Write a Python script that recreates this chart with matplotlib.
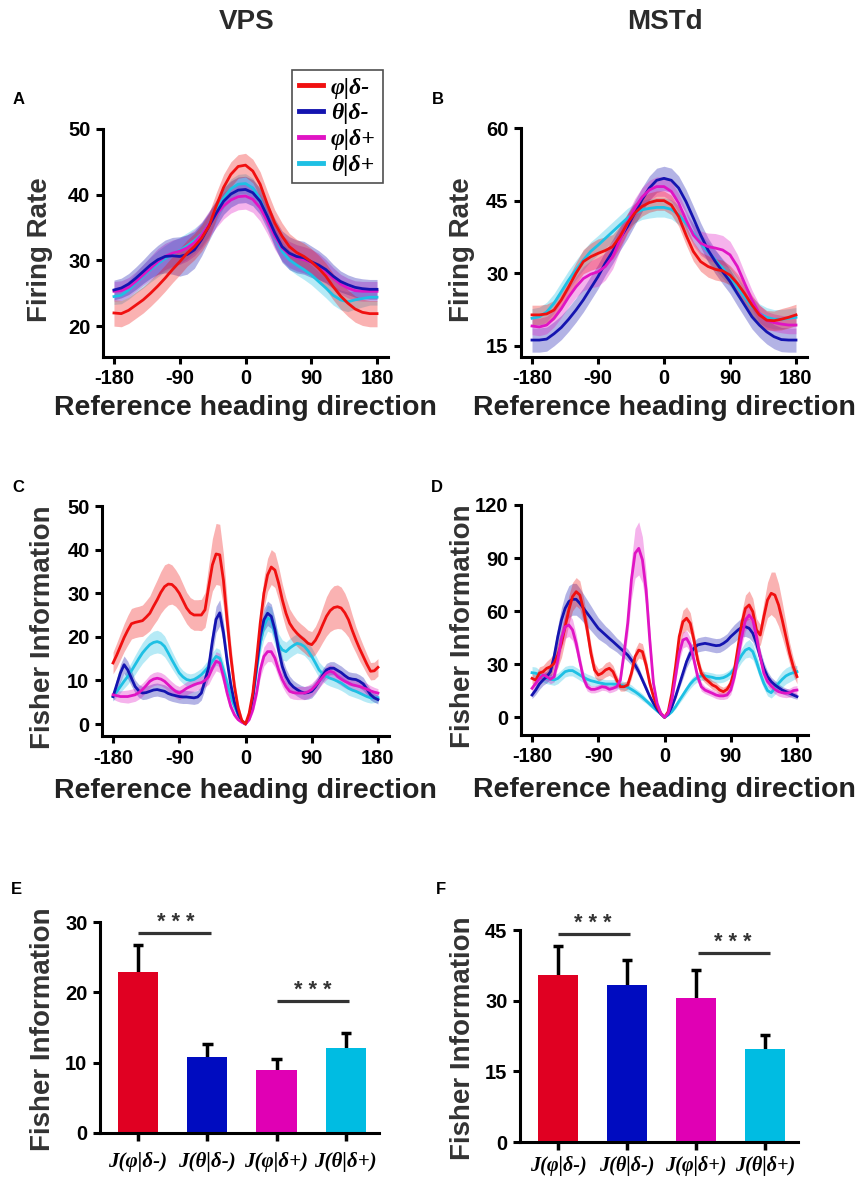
import numpy as np
import matplotlib
matplotlib.use("Agg")
import matplotlib.pyplot as plt
from matplotlib.lines import Line2D
from matplotlib.font_manager import FontProperties

plt.rcParams['font.family'] = ['Liberation Sans', 'DejaVu Sans']
plt.rcParams['font.weight'] = 'bold'

# ---------------- data ----------------
x10 = np.arange(-180, 181, 10)
x5 = np.arange(-180, 181, 5)
names = ['φ|δ-', 'θ|δ-', 'φ|δ+', 'θ|δ+']
colors = ['#f01010', '#1414b0', '#e014c4', '#1ec0e4']

# panel A (VPS firing rate)
a_red = [22.0, 21.9, 22.4, 23.2, 24.0, 25.0, 26.1, 27.3, 28.6, 29.8, 31.1, 32.1, 33.4, 35.2, 38.3, 41.1, 43.1, 44.3, 44.5,
         43.6, 41.6, 38.5, 35.7, 33.7, 32.1, 31.2, 30.6, 29.8, 28.8, 27.6, 26.0, 24.6, 23.5, 22.6, 22.1, 21.9, 21.9]
a_blue = [25.5, 25.8, 26.4, 27.3, 28.3, 29.3, 30.1, 30.6, 30.7, 30.6, 30.9, 31.6, 33.2, 35.2, 37.2, 39.0, 40.1, 40.7, 40.8,
          40.3, 39.0, 36.7, 34.2, 32.1, 31.1, 30.6, 30.4, 29.8, 29.3, 28.6, 27.6, 26.8, 26.3, 25.9, 25.7, 25.6, 25.6]
a_mag = [25.3, 25.4, 25.9, 26.8, 27.8, 28.8, 29.8, 30.6, 31.1, 31.4, 31.9, 32.7, 33.9, 35.5, 37.0, 38.3, 39.2, 39.7, 39.8,
         39.3, 38.0, 36.0, 33.7, 31.9, 30.9, 30.4, 30.1, 29.7, 29.1, 28.3, 27.3, 26.4, 25.8, 25.4, 25.3, 25.3, 25.3]
a_cyan = [24.5, 24.7, 25.5, 26.6, 27.6, 28.6, 29.5, 30.3, 31.0, 31.5, 32.2, 33.0, 34.0, 35.5, 37.5, 39.5, 40.9, 41.6, 41.7,
          41.0, 39.3, 36.7, 33.7, 31.4, 30.1, 29.3, 28.6, 27.8, 26.8, 25.8, 24.7, 24.0, 23.7, 24.0, 24.2, 24.4, 24.4]
a_sem_red = [2.0, 2.0, 2.0, 2.0, 2.0, 2.0, 2.0, 2.0, 2.0, 2.0, 2.0, 2.0, 2.0, 2.0, 2.0, 2.0, 1.9, 1.8, 1.8,
             1.8, 1.9, 2.0, 2.0, 2.0, 2.0, 2.0, 2.0, 2.0, 2.0, 2.0, 2.0, 2.0, 2.0, 2.0, 2.0, 2.0, 2.0]
a_sem_blue = [1.5, 1.5, 1.6, 1.7, 1.8, 2.0, 2.2, 2.5, 2.8, 3.0, 3.0, 2.8, 2.5, 2.2, 2.0, 2.0, 2.0, 2.0, 2.0,
              2.0, 2.0, 2.0, 2.2, 2.4, 2.5, 2.5, 2.5, 2.4, 2.2, 2.0, 1.8, 1.6, 1.5, 1.5, 1.5, 1.5, 1.5]
a_sem_mag = [1.5, 1.5, 1.5, 1.5, 1.6, 1.8, 2.0, 2.0, 2.0, 2.0, 2.0, 2.0, 2.0, 2.0, 2.0, 2.0, 2.0, 2.0, 2.0,
             2.0, 2.0, 2.0, 2.0, 2.0, 2.0, 2.0, 2.0, 2.0, 2.0, 1.8, 1.6, 1.5, 1.5, 1.5, 1.5, 1.5, 1.5]
a_sem_cyan = [1.2, 1.3, 1.4, 1.6, 1.8, 1.9, 2.0, 2.0, 2.0, 2.0, 2.0, 1.9, 1.8, 1.7, 1.6, 1.5, 1.5, 1.5, 1.5,
              1.5, 1.5, 1.5, 1.5, 1.5, 1.5, 1.5, 1.5, 1.5, 1.5, 1.5, 1.5, 1.5, 1.5, 1.4, 1.3, 1.2, 1.2]

# panel B (MSTd firing rate)
b_red = [21.4, 21.4, 21.6, 22.4, 24.5, 27.2, 30.0, 32.4, 33.4, 34.1, 34.7, 35.5, 37.6, 40.3, 42.4, 43.8, 44.6, 45.0, 45.0,
         44.1, 41.7, 37.9, 34.5, 32.4, 31.4, 30.8, 30.5, 29.6, 27.9, 25.8, 23.4, 21.4, 20.3, 20.2, 20.5, 20.9, 21.4]
b_blue = [16.2, 16.2, 16.4, 17.5, 18.8, 20.5, 22.4, 24.5, 26.9, 29.3, 32.1, 34.5, 37.2, 39.6, 42.4, 45.2, 47.6, 49.2, 49.6,
          49.2, 47.6, 44.8, 41.4, 37.9, 34.8, 32.4, 30.3, 28.3, 25.8, 23.4, 21.0, 19.3, 17.9, 16.9, 16.3, 16.2, 16.2]
b_mag = [19.1, 18.9, 19.3, 20.7, 22.7, 25.1, 27.2, 28.9, 29.8, 30.3, 31.4, 33.4, 36.9, 40.3, 43.4, 45.7, 47.2, 47.9, 47.9,
         46.9, 44.5, 41.0, 37.9, 36.2, 35.5, 35.2, 34.8, 33.8, 31.4, 27.9, 24.5, 21.7, 20.3, 19.8, 19.5, 19.3, 19.3]
b_cyan = [20.7, 21.0, 22.0, 23.8, 26.2, 28.6, 30.7, 32.7, 34.5, 35.8, 37.2, 38.6, 40.0, 41.4, 42.4, 43.1, 43.4, 43.6, 43.6,
          43.2, 42.1, 40.3, 38.3, 36.2, 34.5, 32.7, 31.0, 29.3, 27.2, 25.1, 23.1, 21.7, 20.9, 20.5, 20.5, 20.7, 20.9]
b_sem_red = [2.0, 2.0, 2.0, 2.0, 2.0, 2.0, 2.2, 2.5, 2.8, 3.0, 2.8, 2.5, 2.2, 2.0, 2.0, 2.0, 2.0, 2.0, 2.0,
             2.0, 2.0, 2.0, 2.0, 2.0, 2.2, 2.2, 2.2, 2.0, 2.0, 2.0, 2.0, 2.0, 2.0, 2.0, 2.2, 2.2, 2.2]
b_sem_blue = [2.5] * 37
b_sem_mag = [1.8, 1.8, 1.8, 1.8, 1.8, 2.0, 2.2, 2.5, 2.8, 3.0, 2.8, 2.5, 2.2, 2.0, 2.0, 2.0, 2.0, 2.0, 2.0,
             2.0, 2.0, 2.0, 2.2, 2.5, 2.8, 3.0, 3.0, 2.8, 2.5, 2.2, 2.0, 1.8, 1.8, 1.8, 1.8, 1.8, 1.8]
b_sem_cyan = [2.0] * 37

# panel C (VPS Fisher information)
c_red = [14.0, 15.8, 17.8, 19.8, 21.5, 23.0, 23.3,
         23.5, 23.7, 24.5, 25.4, 27.0, 28.5, 30.2, 31.5, 32.1, 32.0,
         31.2, 30.0, 28.3, 26.6, 25.5, 25.0, 25.0, 25.0, 26.2,
         31.5, 36.5, 39.0, 38.8, 33.0, 23.9, 15.5, 8.6, 3.7, 0.8,
         0.0,
         2.5, 7.1, 14.7, 23.1, 30.0, 34.2, 36.0, 35.3, 32.3,
         28.5, 25.4, 23.1, 21.8, 20.8, 20.0, 19.3, 18.5, 18.2,
         19.2, 20.8, 22.8, 24.7, 26.0, 26.7, 26.9, 26.6, 25.5, 23.9,
         21.5, 19.3, 17.3, 15.5, 13.7, 12.1, 12.2, 13.0]
c_blue = [6.3, 9.0, 11.7, 13.6, 12.4, 10.5, 8.6,
          7.6, 7.1, 7.2, 7.5, 7.8, 7.9, 7.7, 7.5, 7.0, 6.7,
          6.5, 6.3, 6.2, 6.2, 6.1, 6.0, 6.2, 7.1, 10.0,
          13.0, 19.0, 24.0, 25.5, 21.0, 14.5, 9.0, 5.0, 2.3, 0.6,
          0.0,
          1.4, 6.3, 13.2, 20.0, 23.9, 25.4, 24.7, 21.6, 17.0,
          13.2, 10.9, 9.4, 8.5, 7.9, 7.4, 7.1, 7.2, 7.5,
          8.5, 9.8, 11.2, 12.4, 12.8, 12.8, 12.3, 11.8, 11.1, 10.5,
          10.3, 10.2, 9.8, 9.2, 8.0, 6.7, 6.0, 5.6]
c_mag = [6.7, 6.5, 6.3, 6.3, 6.3, 6.5, 6.7,
         7.2, 7.9, 8.8, 9.8, 10.3, 10.5, 10.3, 9.8, 9.0, 8.2,
         7.5, 7.1, 7.6, 8.2, 8.6, 9.0, 9.3, 9.5, 10.0,
         10.9, 12.8, 14.4, 14.0, 10.9, 7.1, 4.0, 2.1, 1.0, 0.4,
         0.0,
         1.0, 3.3, 7.1, 12.4, 15.5, 16.6, 16.6, 15.1, 12.4,
         10.2, 8.6, 7.5, 7.2, 7.1, 7.1, 7.1, 7.4, 7.9,
         8.8, 9.8, 10.8, 11.7, 12.1, 11.8, 10.9, 10.3, 9.8, 9.4,
         9.0, 8.8, 8.6, 8.3, 8.0, 7.6, 7.3, 7.1]
c_cyan = [6.3, 7.4, 8.6, 9.8, 10.9, 12.2, 13.6,
          15.0, 16.3, 17.3, 18.2, 18.7, 18.9, 18.6, 17.8, 16.3, 14.7,
          13.2, 11.7, 10.8, 10.2, 10.0, 10.2, 10.7, 11.3, 12.2,
          13.2, 14.4, 15.5, 15.1, 12.4, 9.4, 6.3, 4.0, 2.1, 0.8,
          0.0,
          1.6, 6.0, 12.4, 18.5, 22.4, 24.3, 23.9, 20.8, 18.2,
          17.0, 16.6, 17.4, 18.0, 18.5, 18.3, 17.8, 16.8, 15.5,
          14.0, 12.4, 11.5, 10.9, 10.5, 10.2, 9.8, 9.4, 8.8, 8.2,
          7.8, 7.5, 7.1, 6.7, 6.3, 6.0, 6.0, 6.0]
c_sem_red = [2.5, 2.8, 3.0, 3.2, 3.4, 3.5, 3.5,
             3.5, 3.6, 3.8, 4.0, 4.3, 4.6, 4.8, 5.0, 4.8, 4.5,
             4.2, 4.0, 3.8, 3.6, 3.5, 3.5, 3.5, 3.6, 4.0,
             5.0, 6.0, 7.0, 7.0, 6.0, 4.5, 3.0, 2.0, 1.2, 0.6,
             0.3,
             0.6, 1.2, 2.0, 3.0, 3.5, 3.8, 4.0, 4.0, 3.8,
             3.6, 3.5, 3.3, 3.2, 3.0, 3.0, 3.0, 3.0, 3.0,
             3.2, 3.5, 4.0, 4.5, 4.8, 5.0, 5.0, 4.8, 4.5, 4.0,
             3.5, 3.0, 2.8, 2.5, 2.3, 2.0, 2.0, 2.0]
c_sem_blue = [1.0, 1.5, 2.0, 2.0, 2.0, 1.8, 1.5,
              1.5, 1.5, 1.5, 1.5, 1.5, 1.5, 1.5, 1.5, 1.5, 1.5,
              1.5, 1.5, 1.5, 1.5, 1.5, 1.5, 1.5, 1.6, 2.0,
              2.5, 3.0, 3.0, 3.0, 2.5, 2.0, 1.5, 1.0, 0.6, 0.3,
              0.2,
              0.3, 0.8, 1.5, 2.2, 2.6, 2.8, 2.8, 2.6, 2.3,
              2.0, 1.8, 1.6, 1.5, 1.5, 1.5, 1.5, 1.5, 1.5,
              1.5, 1.5, 1.5, 1.5, 1.5, 1.5, 1.5, 1.5, 1.5, 1.5,
              1.5, 1.5, 1.5, 1.5, 1.3, 1.2, 1.0, 1.0]
c_sem_mag = [1.0, 1.2, 1.3, 1.4, 1.5, 1.5, 1.5,
             1.5, 1.5, 1.5, 1.5, 1.5, 1.5, 1.5, 1.5, 1.5, 1.5,
             1.5, 1.5, 1.5, 1.5, 1.5, 1.5, 1.5, 1.5, 1.5,
             1.8, 2.0, 2.2, 2.2, 1.8, 1.4, 1.0, 0.7, 0.4, 0.2,
             0.1,
             0.3, 0.7, 1.2, 1.8, 2.2, 2.3, 2.3, 2.1, 1.8,
             1.6, 1.5, 1.5, 1.5, 1.5, 1.5, 1.5, 1.5, 1.5,
             1.5, 1.5, 1.5, 1.5, 1.5, 1.5, 1.5, 1.5, 1.5, 1.5,
             1.5, 1.5, 1.4, 1.4, 1.3, 1.2, 1.1, 1.0]
c_sem_cyan = [1.0, 1.2, 1.4, 1.6, 1.8, 2.0, 2.2,
              2.3, 2.4, 2.5, 2.5, 2.6, 2.6, 2.5, 2.4, 2.2, 2.0,
              1.8, 1.6, 1.5, 1.5, 1.5, 1.5, 1.5, 1.5, 1.6,
              1.8, 2.0, 2.0, 2.0, 1.8, 1.5, 1.2, 0.9, 0.6, 0.3,
              0.2,
              0.4, 1.0, 1.8, 2.5, 3.0, 3.0, 3.0, 2.8, 2.5,
              2.3, 2.2, 2.2, 2.2, 2.2, 2.2, 2.1, 2.0, 2.0,
              1.9, 1.8, 1.8, 1.8, 1.8, 1.8, 1.7, 1.7, 1.6, 1.6,
              1.5, 1.5, 1.4, 1.4, 1.3, 1.2, 1.1, 1.0]

# panel D (MSTd Fisher information)
d_red = [22.0, 21.0, 25.0, 25.8, 27.7, 28.6, 30.5,
         35.2, 41.8, 51.2, 60.7, 68.2, 71.0, 69.1, 60.7, 49.4, 36.2,
         26.8, 23.9, 24.9, 26.8, 27.7, 25.8, 21.1, 17.3, 17.3,
         18.3, 24.9, 34.3, 38.0, 37.1, 29.6, 19.2, 11.7, 6.0, 2.3,
         0.0,
         3.2, 13.6, 28.6, 45.6, 54.0, 56.0, 53.1, 43.7, 32.4,
         24.9, 22.0, 20.2, 18.3, 17.3, 15.4, 14.5, 15.8, 19.2,
         26.8, 40.0, 53.1, 61.6, 63.5, 59.7, 49.4, 46.5, 56.9, 66.3,
         70.1, 69.1, 63.5, 55.0, 45.6, 36.2, 28.6, 23.0]
d_blue = [12.6, 15.4, 18.8, 21.1, 23.0, 25.8, 34.3,
          45.6, 55.0, 61.6, 65.4, 66.7, 66.7, 64.4, 61.6, 58.8, 56.0,
          53.1, 50.3, 48.4, 46.5, 44.6, 42.8, 40.9, 39.0, 37.1,
          35.2, 32.4, 29.6, 25.8, 21.1, 16.4, 11.7, 7.9, 4.5, 1.9,
          0.0,
          1.9, 6.0, 11.7, 18.3, 24.9, 31.5, 36.2, 39.0, 40.9,
          41.4, 41.8, 41.4, 40.9, 40.5, 40.7, 41.8, 43.3, 45.6,
          47.5, 49.4, 50.9, 51.2, 50.3, 47.5, 41.8, 34.3, 27.7, 23.0,
          20.2, 18.3, 16.8, 15.4, 14.5, 13.6, 12.6, 11.7]
d_mag = [16.4, 19.2, 22.0, 23.9, 23.0, 21.5, 23.0,
         32.4, 44.6, 51.2, 52.2, 49.4, 41.8, 31.5, 22.0, 17.3, 15.8,
         15.8, 16.4, 17.3, 17.0, 15.8, 16.4, 17.3, 21.0, 36.2,
         53.1, 77.6, 92.7, 95.5, 89.0, 72.0, 43.7, 19.2, 7.9, 2.3,
         0.0,
         2.3, 9.8, 23.0, 36.2, 43.7, 44.6, 40.9, 32.4, 23.0,
         17.3, 15.4, 14.5, 13.6, 12.6, 12.1, 12.1, 12.6, 15.4,
         23.0, 34.3, 45.6, 55.0, 57.8, 55.0, 45.6, 34.3, 24.9, 20.2,
         17.7, 15.8, 14.5, 13.9, 13.6, 13.9, 15.1, 15.4]
d_cyan = [25.2, 24.9, 23.9, 23.0, 22.0, 21.5, 21.1,
          22.0, 23.9, 25.8, 26.4, 26.4, 25.2, 23.9, 22.6, 21.5, 20.7,
          20.2, 19.6, 19.2, 18.8, 18.8, 18.8, 18.7, 18.3, 17.7,
          17.0, 15.8, 14.5, 13.0, 11.3, 9.4, 7.5, 5.5, 3.6, 1.9,
          0.0,
          1.3, 3.2, 6.0, 9.4, 12.6, 15.8, 18.8, 21.1, 22.6,
          23.4, 23.4, 23.0, 22.6, 22.0, 22.0, 22.4, 23.4, 24.9,
          27.7, 31.5, 35.2, 38.0, 39.0, 37.1, 31.5, 24.9, 19.2, 15.1,
          13.9, 16.4, 19.2, 21.5, 23.4, 24.5, 25.2, 25.8]
d_sem_red = [3.0, 3.0, 3.5, 3.5, 4.0, 5.0, 6.0,
             7.0, 8.0, 8.0, 8.0, 8.0, 8.0, 8.0, 7.0, 6.0, 5.0,
             4.0, 3.5, 3.5, 4.0, 4.0, 3.5, 3.0, 2.5, 2.5,
             2.5, 3.0, 4.0, 4.5, 4.5, 4.0, 3.0, 2.0, 1.2, 0.6,
             0.3,
             1.0, 3.0, 5.0, 6.0, 6.5, 6.5, 6.0, 5.0, 4.0,
             3.0, 2.5, 2.5, 2.5, 2.5, 2.5, 2.5, 2.5, 3.0,
             4.0, 5.0, 6.5, 7.5, 8.0, 7.5, 6.5, 6.0, 8.0, 10.0,
             12.0, 13.0, 12.0, 10.0, 8.0, 6.0, 5.0, 4.0]
d_sem_blue = [2.0, 2.5, 3.0, 3.0, 3.5, 4.0, 5.0,
              6.0, 7.0, 8.0, 9.0, 9.0, 9.0, 8.5, 8.0, 7.5, 7.0,
              6.5, 6.0, 5.5, 5.0, 5.0, 4.5, 4.0, 4.0, 3.5,
              3.5, 3.0, 3.0, 2.5, 2.0, 2.0, 1.5, 1.0, 0.6, 0.3,
              0.2,
              0.3, 0.8, 1.5, 2.0, 3.0, 3.5, 4.0, 4.0, 4.0,
              4.0, 4.0, 4.0, 4.0, 4.0, 4.0, 4.0, 4.0, 4.5,
              5.0, 5.0, 5.5, 5.5, 5.5, 5.0, 4.5, 4.0, 3.5, 3.0,
              2.5, 2.5, 2.0, 2.0, 2.0, 2.0, 1.8, 1.5]
d_sem_mag = [2.0, 2.0, 2.5, 2.5, 2.5, 2.5, 3.0,
             4.0, 5.5, 6.5, 6.5, 6.0, 5.0, 4.0, 3.0, 2.5, 2.0,
             2.0, 2.0, 2.0, 2.0, 2.0, 2.0, 2.0, 2.5, 4.0,
             7.0, 11.0, 14.0, 15.0, 13.0, 10.0, 6.0, 3.0, 1.5, 0.6,
             0.3,
             0.5, 1.5, 3.0, 4.0, 4.5, 4.5, 4.0, 3.5, 3.0,
             2.5, 2.0, 2.0, 2.0, 2.0, 2.0, 2.0, 2.0, 2.5,
             3.0, 4.0, 5.0, 6.0, 6.5, 6.0, 5.0, 4.0, 3.0, 2.5,
             2.5, 2.5, 2.5, 2.5, 2.5, 2.5, 2.5, 2.5]
d_sem_cyan = [3.5, 3.5, 3.0, 3.0, 3.0, 3.0, 3.0,
              3.0, 3.0, 3.0, 3.0, 3.0, 3.0, 3.0, 3.0, 3.0, 3.0,
              2.5, 2.5, 2.5, 2.5, 2.5, 2.5, 2.5, 2.5, 2.5,
              2.5, 2.5, 2.0, 2.0, 2.0, 1.5, 1.5, 1.0, 0.6, 0.3,
              0.2,
              0.3, 0.7, 1.2, 1.6, 2.0, 2.2, 2.5, 2.5, 2.5,
              2.5, 2.5, 2.5, 2.5, 2.5, 2.5, 2.5, 2.5, 2.5,
              3.0, 3.5, 4.0, 4.5, 5.0, 4.5, 4.0, 3.5, 3.0, 3.0,
              3.0, 3.5, 4.0, 4.5, 4.5, 4.5, 4.0, 3.5]

# panels E, F (mean Fisher information)
bar_labels = ['J(φ|δ-)', 'J(θ|δ-)', 'J(φ|δ+)', 'J(θ|δ+)']
bar_colors = ['#e00022', '#000cc0', '#e000b4', '#00bce2']
e_vals = [22.9, 10.8, 9.0, 12.1]
e_err = [3.9, 1.9, 1.5, 2.1]
f_vals = [35.4, 33.3, 30.5, 19.8]
f_err = [6.2, 5.3, 6.0, 3.0]

# ---------------- layout helpers ----------------
W, H = 858, 1179
fig = plt.figure(figsize=(W / 100, H / 100), dpi=100)
label_col = '#333333'


def box(l, t, r, b):
    return [l / W, 1 - b / H, (r - l) / W, (b - t) / H]


def style(ax):
    for s in ['top', 'right']:
        ax.spines[s].set_visible(False)
    for s in ['left', 'bottom']:
        ax.spines[s].set_linewidth(2.2)
    ax.tick_params(width=2.2, length=5, labelsize=14.5, pad=4)
    for t in ax.get_xticklabels() + ax.get_yticklabels():
        t.set_fontweight('bold')


def curve_panel(ax, x, means, sems, ylim, yticks, order=(3, 2, 1, 0)):
    for i in order:
        m = np.array(means[i])
        s = np.array(sems[i])
        ax.fill_between(x, m - s, m + s, color=colors[i], alpha=0.32, lw=0)
    for i in order:
        ax.plot(x, means[i], color=colors[i], lw=2.0)
    ax.set_xlim(-195, 195)
    ax.set_ylim(*ylim)
    ax.set_xticks([-180, -90, 0, 90, 180])
    ax.set_xticklabels(['-180', '-90', '0', '90', '180'])
    ax.set_yticks(yticks)
    ax.set_yticklabels([str(v) for v in yticks])
    ax.spines['left'].set_bounds(ylim[0], yticks[-1])
    style(ax)


axA = fig.add_axes(box(103, 129, 388, 357))
curve_panel(axA, x10, [a_red, a_blue, a_mag, a_cyan],
            [a_sem_red, a_sem_blue, a_sem_mag, a_sem_cyan], (15.3, 50), [20, 30, 40, 50], order=(3, 2, 1, 0))
axB = fig.add_axes(box(521, 128, 807, 357))
curve_panel(axB, x10, [b_red, b_blue, b_mag, b_cyan],
            [b_sem_red, b_sem_blue, b_sem_mag, b_sem_cyan], (12.7, 60), [15, 30, 45, 60], order=(3, 1, 2, 0))
axC = fig.add_axes(box(102, 506, 389, 736))
curve_panel(axC, x5, [c_red, c_blue, c_mag, c_cyan],
            [c_sem_red, c_sem_blue, c_sem_mag, c_sem_cyan], (-2.75, 50), [0, 10, 20, 30, 40, 50], order=(3, 1, 2, 0))
axD = fig.add_axes(box(521, 505, 808, 735))
curve_panel(axD, x5, [d_red, d_blue, d_mag, d_cyan],
            [d_sem_red, d_sem_blue, d_sem_mag, d_sem_cyan], (-10, 120), [0, 30, 60, 90, 120], order=(3, 1, 0, 2))

for ax, yl, lx, ly, xy in [(axA, 'Firing Rate', -0.221, 0.47, -0.222),
                           (axB, 'Firing Rate', -0.206, 0.467, -0.222),
                           (axC, 'Fisher Information', -0.206, 0.474, -0.237),
                           (axD, 'Fisher Information', -0.202, 0.474, -0.241)]:
    ax.set_ylabel(yl, fontsize=20, fontweight='bold', color=label_col, va='center')
    ax.yaxis.set_label_coords(lx, ly)
    ax.set_xlabel('Reference heading direction', fontsize=20.5, fontweight='bold', color='#222222', va='center')
    ax.xaxis.set_label_coords(0.5, xy)

# legend
handles = [Line2D([0], [0], color=c, lw=3.5) for c in colors]
leg = fig.legend(handles, names, loc='upper left', bbox_to_anchor=(292 / W, 1 - 70 / H),
                 prop=FontProperties(family='Liberation Serif', style='italic', weight='bold', size=17),
                 frameon=True, fancybox=False, edgecolor='#222222', handlelength=1.0,
                 handletextpad=0.35, labelspacing=0.18, borderpad=0.3, borderaxespad=0)
leg.get_frame().set_linewidth(1.2)


def bar_panel(ax, vals, errs, ylim, yticks, sigs, label_pad=8, label_size=15):
    pos = np.arange(len(vals))
    tops = np.array(vals) + np.array(errs)
    ax.vlines(pos, vals, tops, color='black', lw=2.5, zorder=1)
    ax.hlines(tops, pos - 0.075, pos + 0.075, color='black', lw=2.5, zorder=1)
    ax.bar(pos, vals, width=0.58, color=bar_colors, zorder=2)
    ax.set_xlim(-0.55, 3.48)
    ax.set_ylim(*ylim)
    ax.set_yticks(yticks)
    ax.set_yticklabels([str(v) for v in yticks])
    ax.set_xticks(pos)
    ax.set_xticklabels(bar_labels)
    style(ax)
    ax.tick_params(axis='x', length=6, width=2.5, pad=label_pad)
    for t in ax.get_xticklabels():
        t.set_fontfamily('Liberation Serif')
        t.set_fontstyle('italic')
        t.set_fontsize(label_size)
    for x1, x2, y, sx, sy in sigs:
        ax.plot([x1, x2], [y, y], color='#333333', lw=2.3, clip_on=False, solid_capstyle='butt')
        ax.text(sx, sy, '* * *', ha='center', va='center', fontsize=15.5, fontweight='bold', color='#333333')
    ax.set_ylabel('Fisher Information', fontsize=20, fontweight='bold', color=label_col, va='center')


axE = fig.add_axes(box(100, 922, 379, 1133))
bar_panel(axE, e_vals, e_err, (0, 30), [0, 10, 20, 30],
          [(0.0, 1.05, 28.5, 0.54, 30.0), (2.0, 3.05, 18.8, 2.52, 20.3)])
axE.yaxis.set_label_coords(-0.204, 0.49)
axF = fig.add_axes(box(520, 930, 798, 1142))
bar_panel(axF, f_vals, f_err, (0, 45), [0, 15, 30, 45],
          [(0.0, 1.04, 44.1, 0.5, 46.3), (2.03, 3.07, 40.1, 2.54, 42.3)],
          label_pad=4, label_size=14.5)
axF.yaxis.set_label_coords(-0.205, 0.49)

# titles and panel letters
fig.text(247 / W, 1 - 22 / H, 'VPS', ha='center', va='center', fontsize=20, fontweight='bold', color='#2a2a2a')
fig.text(665 / W, 1 - 22 / H, 'MSTd', ha='center', va='center', fontsize=20, fontweight='bold', color='#2a2a2a')
for lab, px, py in [('A', 19, 99), ('B', 438, 99), ('C', 18, 487), ('D', 437, 487), ('E', 16, 890), ('F', 441, 890)]:
    fig.text(px / W, 1 - py / H, lab, ha='center', va='center', fontsize=12, fontweight='bold')

fig.savefig('out.png', dpi=100)
